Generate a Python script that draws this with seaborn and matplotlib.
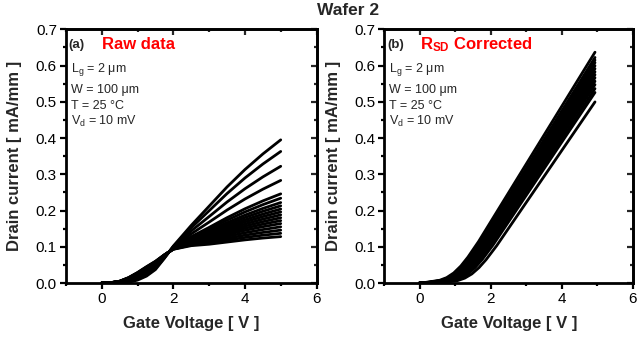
import matplotlib
matplotlib.use("Agg")
import matplotlib.pyplot as plt
from matplotlib.ticker import MultipleLocator, FormatStrFormatter
import numpy as np
import pandas as pd
import seaborn as sns

# ---------------- data ----------------
# Panel (a): raw transfer curves, common gate-voltage grid
raw_vg = [0, 0.25, 0.5, 0.75, 1.0, 1.25, 1.5, 1.75, 2.0, 2.5, 3.0, 3.5, 4.0, 4.5, 5.0]
raw_id = [
    [0, 0.0000, 0.0005, 0.0020, 0.0080, 0.0190, 0.0370, 0.0680, 0.1020, 0.1590, 0.2120, 0.2650, 0.3130, 0.3560, 0.3950],
    [0, 0.0001, 0.0010, 0.0036, 0.0105, 0.0221, 0.0398, 0.0692, 0.1009, 0.1523, 0.1994, 0.2468, 0.2897, 0.3282, 0.3630],
    [0, 0.0003, 0.0017, 0.0055, 0.0137, 0.0261, 0.0433, 0.0707, 0.0995, 0.1437, 0.1833, 0.2235, 0.2600, 0.2927, 0.3221],
    [0, 0.0004, 0.0024, 0.0074, 0.0168, 0.0299, 0.0466, 0.0722, 0.0982, 0.1355, 0.1680, 0.2013, 0.2317, 0.2588, 0.2831],
    [0, 0.0006, 0.0030, 0.0093, 0.0197, 0.0335, 0.0498, 0.0736, 0.0970, 0.1278, 0.1534, 0.1802, 0.2047, 0.2265, 0.2460],
    [0, 0.0006, 0.0032, 0.0098, 0.0207, 0.0347, 0.0509, 0.0740, 0.0966, 0.1252, 0.1487, 0.1733, 0.1960, 0.2161, 0.2340],
    [0, 0.0006, 0.0034, 0.0104, 0.0216, 0.0358, 0.0519, 0.0745, 0.0962, 0.1227, 0.1440, 0.1665, 0.1873, 0.2057, 0.2220],
    [0, 0.0007, 0.0036, 0.0109, 0.0223, 0.0367, 0.0527, 0.0748, 0.0959, 0.1208, 0.1404, 0.1613, 0.1807, 0.1978, 0.2129],
    [0, 0.0007, 0.0037, 0.0113, 0.0230, 0.0376, 0.0534, 0.0752, 0.0956, 0.1190, 0.1369, 0.1563, 0.1743, 0.1901, 0.2041],
    [0, 0.0007, 0.0039, 0.0117, 0.0236, 0.0384, 0.0541, 0.0755, 0.0953, 0.1173, 0.1338, 0.1518, 0.1685, 0.1832, 0.1961],
    [0, 0.0008, 0.0040, 0.0121, 0.0243, 0.0392, 0.0548, 0.0758, 0.0950, 0.1156, 0.1306, 0.1472, 0.1626, 0.1762, 0.1881],
    [0, 0.0008, 0.0041, 0.0125, 0.0249, 0.0399, 0.0555, 0.0761, 0.0948, 0.1139, 0.1275, 0.1426, 0.1568, 0.1692, 0.1801],
    [0, 0.0008, 0.0043, 0.0129, 0.0255, 0.0407, 0.0562, 0.0764, 0.0945, 0.1122, 0.1243, 0.1381, 0.1510, 0.1623, 0.1721],
    [0, 0.0009, 0.0044, 0.0132, 0.0262, 0.0415, 0.0569, 0.0767, 0.0942, 0.1106, 0.1212, 0.1335, 0.1452, 0.1553, 0.1640],
    [0, 0.0009, 0.0045, 0.0137, 0.0269, 0.0424, 0.0577, 0.0770, 0.0939, 0.1087, 0.1176, 0.1284, 0.1386, 0.1474, 0.1550],
    [0, 0.0009, 0.0047, 0.0141, 0.0276, 0.0433, 0.0585, 0.0773, 0.0936, 0.1068, 0.1140, 0.1232, 0.1320, 0.1395, 0.1459],
    [0, 0.0010, 0.0048, 0.0146, 0.0283, 0.0441, 0.0592, 0.0777, 0.0933, 0.1049, 0.1106, 0.1182, 0.1256, 0.1319, 0.1371],
    [0, 0.0010, 0.0050, 0.0150, 0.0290, 0.0450, 0.0600, 0.0780, 0.0930, 0.1030, 0.1070, 0.1130, 0.1190, 0.1240, 0.1280],
]

# Panel (b): R_SD-corrected curves (each with its own intrinsic gate-voltage points)
cor_vg = [
    [0, 0.15, 0.55, 0.75, 0.95, 1.15, 1.35, 1.65, 4.93],
    [0, 0.20, 0.60, 0.80, 1.00, 1.20, 1.40, 1.70, 4.93],
    [0, 0.23, 0.63, 0.83, 1.03, 1.23, 1.43, 1.73, 4.93],
    [0, 0.25, 0.65, 0.85, 1.05, 1.25, 1.45, 1.75, 4.93],
    [0, 0.28, 0.68, 0.88, 1.08, 1.28, 1.48, 1.78, 4.93],
    [0, 0.31, 0.71, 0.91, 1.11, 1.31, 1.51, 1.81, 4.93],
    [0, 0.34, 0.74, 0.94, 1.14, 1.34, 1.54, 1.84, 4.93],
    [0, 0.37, 0.77, 0.97, 1.17, 1.37, 1.57, 1.87, 4.93],
    [0, 0.41, 0.81, 1.01, 1.21, 1.41, 1.61, 1.91, 4.93],
    [0, 0.44, 0.84, 1.04, 1.24, 1.44, 1.64, 1.94, 4.93],
    [0, 0.48, 0.88, 1.08, 1.28, 1.48, 1.68, 1.98, 4.93],
    [0, 0.52, 0.92, 1.12, 1.32, 1.52, 1.72, 2.02, 4.93],
    [0, 0.56, 0.96, 1.16, 1.36, 1.56, 1.76, 2.06, 4.93],
    [0, 0.66, 1.06, 1.26, 1.46, 1.66, 1.86, 2.16, 4.93],
]
cor_id = [
    [0.001, 0.0016, 0.0074, 0.0148, 0.0277, 0.0468, 0.0714, 0.1144, 0.6368],
    [0.001, 0.0016, 0.0073, 0.0147, 0.0275, 0.0464, 0.0706, 0.1132, 0.6224],
    [0.001, 0.0016, 0.0072, 0.0146, 0.0273, 0.0461, 0.0703, 0.1126, 0.6151],
    [0.001, 0.0016, 0.0072, 0.0146, 0.0272, 0.0459, 0.0699, 0.1121, 0.6081],
    [0.001, 0.0016, 0.0072, 0.0145, 0.0270, 0.0456, 0.0695, 0.1114, 0.5994],
    [0.001, 0.0015, 0.0071, 0.0144, 0.0268, 0.0454, 0.0691, 0.1107, 0.5913],
    [0.001, 0.0015, 0.0071, 0.0143, 0.0267, 0.0451, 0.0686, 0.1100, 0.5827],
    [0.001, 0.0015, 0.0070, 0.0142, 0.0265, 0.0448, 0.0682, 0.1094, 0.5747],
    [0.001, 0.0015, 0.0070, 0.0141, 0.0263, 0.0445, 0.0678, 0.1086, 0.5662],
    [0.001, 0.0015, 0.0069, 0.0140, 0.0262, 0.0442, 0.0673, 0.1078, 0.5567],
    [0.001, 0.0015, 0.0069, 0.0139, 0.0260, 0.0439, 0.0668, 0.1071, 0.5474],
    [0.001, 0.0015, 0.0068, 0.0138, 0.0257, 0.0435, 0.0662, 0.1061, 0.5365],
    [0.001, 0.0015, 0.0068, 0.0137, 0.0255, 0.0431, 0.0657, 0.1052, 0.5258],
    [0.001, 0.0014, 0.0066, 0.0134, 0.0250, 0.0422, 0.0642, 0.1029, 0.4997],
]

x_ticks = [0, 2, 4, 6]
y_ticks = [0.0, 0.1, 0.2, 0.3, 0.4, 0.5, 0.6, 0.7]
title = "Wafer 2"
x_label = "Gate Voltage [ V ]"
y_label = "Drain current [ mA/mm ]"
cond_lines = ["L$_\\mathrm{g}$ = 2 \u03bcm", "W = 100 \u03bcm", "T = 25 \u00b0C", "V$_\\mathrm{d}$ = 10 mV"]

# ---------------- style ----------------
sns.set_style("ticks")
plt.rcParams["font.family"] = ["Liberation Sans", "DejaVu Sans"]
plt.rcParams["mathtext.fontset"] = "custom"
plt.rcParams["mathtext.rm"] = "Liberation Sans"
plt.rcParams["mathtext.it"] = "Liberation Sans:italic"
plt.rcParams["mathtext.bf"] = "Liberation Sans:bold"

# long-form tables
rows = []
for i, ys in enumerate(raw_id):
    for v, y in zip(raw_vg, ys):
        rows.append((i, v, y))
df_raw = pd.DataFrame(rows, columns=["curve", "Vg", "Id"])
rows = []
for i, (xs, ys) in enumerate(zip(cor_vg, cor_id)):
    for v, y in zip(xs, ys):
        rows.append((i, v, y))
df_cor = pd.DataFrame(rows, columns=["curve", "Vg", "Id"])

fig = plt.figure(figsize=(6.37, 3.42), dpi=100)
ax1 = fig.add_axes([0.1035, 0.1725, 0.3934, 0.7418])
ax2 = fig.add_axes([0.6036, 0.1725, 0.3901, 0.7418])

for ax, df in ((ax1, df_raw), (ax2, df_cor)):
    sns.lineplot(data=df, x="Vg", y="Id", units="curve", estimator=None,
                 color="black", lw=2.0, sort=False, ax=ax, legend=False)

for ax, tag, lab in ((ax1, "(a)", "Raw data"), (ax2, "(b)", "R$_\\mathbf{SD}$ Corrected")):
    ax.set_xlim(-1, 6)
    ax.set_ylim(0, 0.7)
    ax.set_xticks(x_ticks)
    ax.set_yticks(y_ticks)
    ax.xaxis.set_minor_locator(MultipleLocator(1))
    ax.yaxis.set_minor_locator(MultipleLocator(0.05))
    ax.yaxis.set_major_formatter(FormatStrFormatter("%.1f"))
    for s in ax.spines.values():
        s.set_visible(True)
        s.set_linewidth(2.0)
        s.set_color("black")
    ax.tick_params(which="both", direction="out", width=1.6, top=False, right=False,
                   labelsize=11, colors="black")
    ax.tick_params(which="major", length=4, pad=2.5)
    ax.tick_params(which="minor", length=2.5)
    # inward ticks on top / right
    sx = ax.secondary_xaxis("top")
    sx.set_xticks(x_ticks)
    sx.xaxis.set_minor_locator(MultipleLocator(1))
    sx.tick_params(which="both", direction="in", width=1.6, labeltop=False)
    sx.tick_params(which="major", length=4)
    sx.tick_params(which="minor", length=2.5)
    sx.spines["top"].set_linewidth(2.0)
    sy = ax.secondary_yaxis("right")
    sy.set_yticks(y_ticks)
    sy.yaxis.set_minor_locator(MultipleLocator(0.05))
    sy.tick_params(which="both", direction="in", width=1.6, labelright=False)
    sy.tick_params(which="major", length=4)
    sy.tick_params(which="minor", length=2.5)
    sy.spines["right"].set_linewidth(2.0)

    ax.set_xlabel(x_label, fontsize=12, fontweight="bold")
    ax.set_ylabel(y_label, fontsize=12, fontweight="bold")
    ax.xaxis.set_label_coords(0.5, -0.13)
    ax.yaxis.set_label_coords(-0.175, 0.5)

    ax.text(-0.93, 0.657, tag, fontsize=9.5, fontweight="bold", va="center", ha="left")
    ax.text(0.0, 0.657, lab, fontsize=12, fontweight="bold", color="#ff0000",
            va="center", ha="left")
    for yv, t in zip([0.588, 0.533, 0.489, 0.447], cond_lines):
        ax.text(-0.86, yv, t, fontsize=9, va="center", ha="left")

fig.text(0.546, 0.97, title, fontsize=12.5, fontweight="bold", ha="center", va="center")

fig.savefig("out.png", dpi=100)
